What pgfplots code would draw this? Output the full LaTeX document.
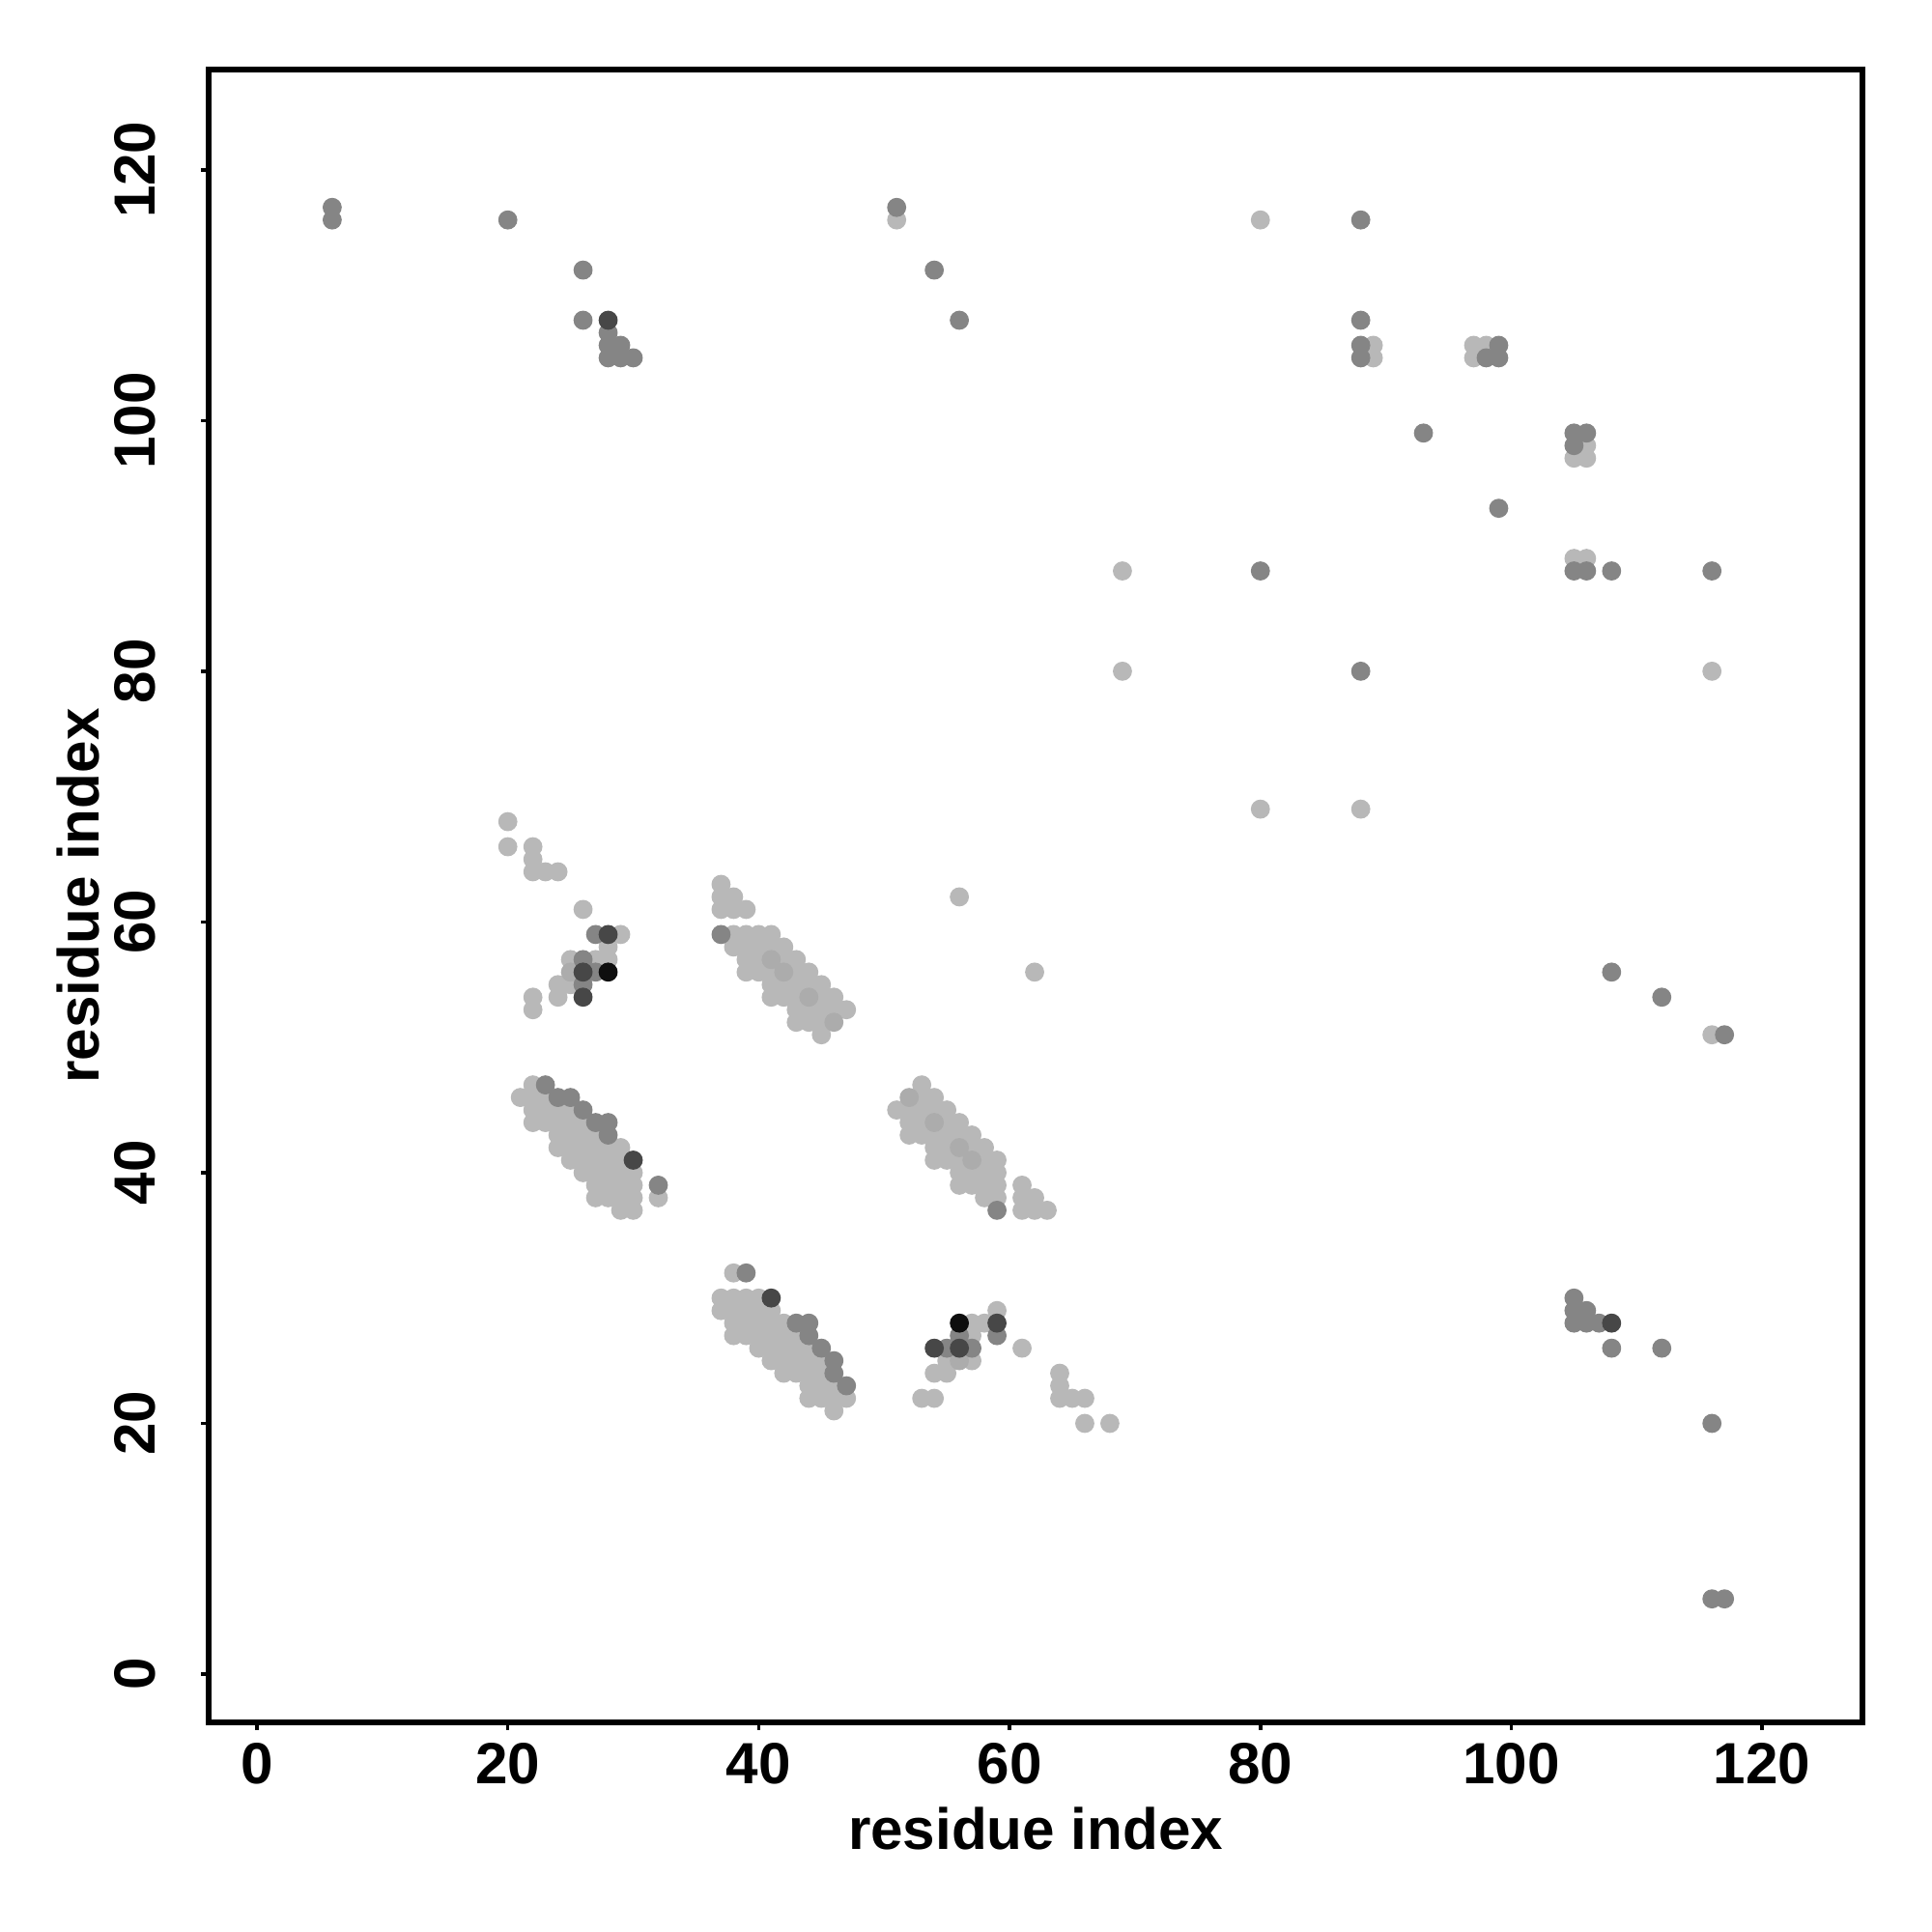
\documentclass[border=0pt]{standalone}
\usepackage{pgfplots}
\pgfplotsset{compat=1.18}
\usepackage{fontspec}
\setmainfont{Liberation Sans}
\definecolor{clight}{HTML}{B8B8B8}
\definecolor{clm}{HTML}{ACACAC}
\definecolor{cmed}{HTML}{858585}
\definecolor{cdark}{HTML}{474747}
\definecolor{cblack}{HTML}{0E0E0E}
\begin{document}
\begin{tikzpicture}
\begin{axis}[
  scale only axis,
  width=13.696cm, height=13.688cm,
  xmin=-3.85, xmax=128, ymin=-3.85, ymax=128,
  xtick={0,20,...,120}, ytick={0,20,...,120},
  tick pos=left,
  tick align=outside,
  major tick length=1.8pt,
  major tick style={line width=0.8pt, black},
  axis line style={line width=1.2pt},
  /pgf/number format/assume math mode=true,
  tick label style={font=\fontsize{13.7}{16}\selectfont\bfseries},
  xticklabel style={anchor=north, inner sep=0pt},
  xticklabel shift=3pt,
  yticklabel style={rotate=90, anchor=south, inner sep=0pt},
  yticklabel shift=10.5pt,
  xlabel={residue index}, ylabel={residue index},
  label style={font=\fontsize{13.7}{16}\selectfont\bfseries, inner sep=0pt},
  xlabel style={at={(axis description cs:0.5,-0.0508)}, anchor=north},
  ylabel style={at={(axis description cs:-0.0654,0.5)}, anchor=south, rotate=0},
  every axis plot/.append style={only marks, mark=*, mark size=2.1pt, mark options={line width=0.3pt}},
]
% light points
\addplot[clight] table {
51 116
80 116
89 106
89 105
97 106
98 106
97 105
106 98
105 97
106 97
105 89
106 89
69 88
69 80
116 80
80 69
88 69
56 62
62 56
116 51
20 68
20 66
22 66
22 65
22 64
23 64
24 64
26 61
29 59
28 58
25 57
27 57
28 57
24 55
25 55
24 54
22 54
22 53
22 47
21 46
22 46
23 46
22 45
23 45
24 45
25 45
22 44
23 44
24 44
25 44
26 44
24 43
25 43
26 43
27 43
24 42
25 42
26 42
27 42
28 42
29 42
25 41
26 41
27 41
28 41
29 41
26 40
27 40
28 40
29 40
30 40
27 39
28 39
29 39
30 39
27 38
28 38
29 38
30 38
32 38
29 37
30 37
37 63
37 62
38 62
37 61
38 61
39 61
38 59
39 59
40 59
41 59
38 58
39 58
40 58
41 58
42 58
39 57
40 57
42 57
43 57
39 56
40 56
41 56
43 56
44 56
41 55
42 55
43 55
44 55
45 55
41 54
42 54
43 54
45 54
46 54
43 53
44 53
45 53
46 53
47 53
43 52
44 52
45 52
45 51
38 32
37 30
38 30
39 30
40 30
37 29
38 29
39 29
40 29
41 29
38 28
39 28
40 28
41 28
42 28
38 27
39 27
40 27
41 27
42 27
43 27
40 26
41 26
42 26
43 26
44 26
41 25
42 25
43 25
44 25
45 25
42 24
43 24
44 24
45 24
44 23
45 23
46 23
44 22
45 22
46 22
47 22
46 21
53 47
53 46
54 46
51 45
52 45
53 45
54 45
55 45
52 44
53 44
55 44
56 44
52 43
53 43
54 43
55 43
56 43
57 43
54 42
55 42
57 42
58 42
54 41
55 41
56 41
58 41
59 41
56 40
57 40
58 40
59 40
56 39
57 39
58 39
59 39
61 39
58 38
59 38
61 38
62 38
61 37
62 37
63 37
59 29
57 28
58 28
57 27
61 26
55 25
57 25
54 24
55 24
53 22
54 22
64 24
64 23
64 22
65 22
66 22
66 20
68 20
};
% slightly darker light points (overlaps)
\addplot[clm] table {
41 57
42 56
44 54
46 52
52 46
54 44
56 42
57 41
25 56
56 25
};
% medium points
\addplot[cmed] table {
6 117
6 116
20 116
26 112
26 108
28 107
28 106
29 106
28 105
29 105
30 105
51 117
54 112
56 108
88 116
88 108
88 106
88 105
99 106
98 105
99 105
93 99
105 99
106 99
105 98
99 93
105 88
106 88
108 88
80 88
88 80
116 88
108 56
112 54
117 51
116 20
116 6
117 6
105 30
105 29
106 29
105 28
106 28
107 28
108 26
112 26
23 47
24 46
25 46
26 45
27 44
28 44
28 43
32 39
39 32
43 28
44 28
44 27
45 26
46 25
46 24
47 23
37 59
59 37
27 59
26 57
27 56
26 55
56 27
59 27
55 26
57 26
};
% dark points
\addplot[cdark] table {
28 108
108 28
30 41
41 30
28 59
59 28
26 56
26 54
56 26
54 26
};
% black points
\addplot[cblack] table {
28 56
56 28
};
\end{axis}
\path ([shift={(-1.728cm,-1.736cm)}]current axis.south west) rectangle ([shift={(0.576cm,0.576cm)}]current axis.north east);
\end{tikzpicture}
\end{document}
